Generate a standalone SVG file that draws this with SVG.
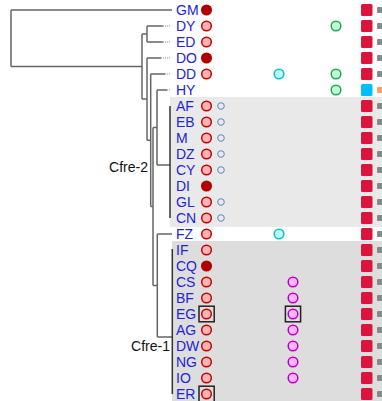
<svg xmlns="http://www.w3.org/2000/svg" width="382" height="401" viewBox="0 0 382 401">
<style>
.lbl{font-family:"Liberation Sans",Arial,sans-serif;font-size:14px;fill:#2323d8}
.clade{font-family:"Liberation Sans",Arial,sans-serif;font-size:14px;fill:#111}
.br{stroke:#666;stroke-width:1.5;fill:none}
.cl{stroke:#333;stroke-width:1.5;fill:none}
.dot{stroke:#b4b4b4;stroke-width:1.5;stroke-dasharray:1 1;fill:none}
.pk{fill:#ffb3b3;stroke:#c80000;stroke-width:1.5}
.dr{fill:#b00000;stroke:#b00000;stroke-width:1.5}
.bl{fill:none;stroke:#5a8ab8;stroke-width:1}
.cy{fill:#b4ffff;stroke:#14bcbc;stroke-width:1.5}
.gr{fill:#c8ffd8;stroke:#0cb050;stroke-width:1.5}
.mg{fill:#ffb4ff;stroke:#c000c8;stroke-width:1.5}
.rs{fill:#dc143c}
.bs{fill:#00bfff}
.gs{fill:#888}
.os{fill:#f4a460}
.box{fill:none;stroke:#222;stroke-width:1.5}
</style>
<rect x="170" y="97" width="212" height="130" fill="#e9e9e9"/>
<rect x="172" y="241" width="210" height="160" fill="#dddddd"/>
<g id="connectors">
<path class="br" d="M11,10V66.6M11,10H172M11,66.6H142M142,34V99.1M142,34H147M147,26V42M147,26H163M147,42H163M142,99.1H147M147,58V140.3M147,58H161M147,140.3H150.7M150.7,74V206.5M150.7,74H165M150.7,206.5H153M153,127.5V285.5M153,127.5H157M157,90V165M157,90H167M157,165H170M153,285.5H157.3M157.3,234V337M157.3,234H172M157.3,337H172"/>
<path class="dot" d="M163,26H171M163,42H171M161,58H171M165,74H171M167,90H171"/>
<path class="cl" d="M170,106V218M172.3,249V394"/>
</g>
<g id="clade-Cfre-2"><text class="clade" x="148" y="171.5" text-anchor="end">Cfre-2</text></g>
<g id="clade-Cfre-1"><text class="clade" x="170" y="351" text-anchor="end">Cfre-1</text></g>
<g id="leaf-GM"><text class="lbl" x="176" y="15">GM</text><circle class="dr" cx="206.5" cy="10" r="4.8"/><rect class="rs" x="361" y="4" width="11.5" height="12" rx="1.5"/><rect class="gs" x="377" y="7" width="6" height="6" rx="1"/></g>
<g id="leaf-DY"><text class="lbl" x="176" y="31">DY</text><circle class="pk" cx="206.5" cy="26" r="4.8"/><circle class="gr" cx="336" cy="26" r="4.8"/><rect class="rs" x="361" y="20" width="11.5" height="12" rx="1.5"/><rect class="gs" x="377" y="23" width="6" height="6" rx="1"/></g>
<g id="leaf-ED"><text class="lbl" x="176" y="47">ED</text><circle class="pk" cx="206.5" cy="42" r="4.8"/><rect class="rs" x="361" y="36" width="11.5" height="12" rx="1.5"/><rect class="gs" x="377" y="39" width="6" height="6" rx="1"/></g>
<g id="leaf-DO"><text class="lbl" x="176" y="63">DO</text><circle class="dr" cx="206.5" cy="58" r="4.8"/><rect class="rs" x="361" y="52" width="11.5" height="12" rx="1.5"/><rect class="gs" x="377" y="55" width="6" height="6" rx="1"/></g>
<g id="leaf-DD"><text class="lbl" x="176" y="79">DD</text><circle class="pk" cx="206.5" cy="74" r="4.8"/><circle class="cy" cx="279" cy="74" r="4.8"/><circle class="gr" cx="336" cy="74" r="4.8"/><rect class="rs" x="361" y="68" width="11.5" height="12" rx="1.5"/><rect class="gs" x="377" y="71" width="6" height="6" rx="1"/></g>
<g id="leaf-HY"><text class="lbl" x="176" y="95">HY</text><circle class="gr" cx="336" cy="90" r="4.8"/><rect class="bs" x="361" y="84" width="11.5" height="12" rx="1.5"/><rect class="os" x="377" y="87" width="6" height="6" rx="1"/></g>
<g id="leaf-AF"><text class="lbl" x="176" y="111">AF</text><circle class="pk" cx="206.5" cy="106" r="4.8"/><circle class="bl" cx="221" cy="106" r="3.3"/><rect class="rs" x="361" y="100" width="11.5" height="12" rx="1.5"/><rect class="gs" x="377" y="103" width="6" height="6" rx="1"/></g>
<g id="leaf-EB"><text class="lbl" x="176" y="127">EB</text><circle class="pk" cx="206.5" cy="122" r="4.8"/><circle class="bl" cx="221" cy="122" r="3.3"/><rect class="rs" x="361" y="116" width="11.5" height="12" rx="1.5"/><rect class="gs" x="377" y="119" width="6" height="6" rx="1"/></g>
<g id="leaf-M"><text class="lbl" x="176" y="143">M</text><circle class="pk" cx="206.5" cy="138" r="4.8"/><circle class="bl" cx="221" cy="138" r="3.3"/><rect class="rs" x="361" y="132" width="11.5" height="12" rx="1.5"/><rect class="gs" x="377" y="135" width="6" height="6" rx="1"/></g>
<g id="leaf-DZ"><text class="lbl" x="176" y="159">DZ</text><circle class="pk" cx="206.5" cy="154" r="4.8"/><circle class="bl" cx="221" cy="154" r="3.3"/><rect class="rs" x="361" y="148" width="11.5" height="12" rx="1.5"/><rect class="gs" x="377" y="151" width="6" height="6" rx="1"/></g>
<g id="leaf-CY"><text class="lbl" x="176" y="175">CY</text><circle class="pk" cx="206.5" cy="170" r="4.8"/><circle class="bl" cx="221" cy="170" r="3.3"/><rect class="rs" x="361" y="164" width="11.5" height="12" rx="1.5"/><rect class="gs" x="377" y="167" width="6" height="6" rx="1"/></g>
<g id="leaf-DI"><text class="lbl" x="176" y="191">DI</text><circle class="dr" cx="206.5" cy="186" r="4.8"/><rect class="rs" x="361" y="180" width="11.5" height="12" rx="1.5"/><rect class="gs" x="377" y="183" width="6" height="6" rx="1"/></g>
<g id="leaf-GL"><text class="lbl" x="176" y="207">GL</text><circle class="pk" cx="206.5" cy="202" r="4.8"/><circle class="bl" cx="221" cy="202" r="3.3"/><rect class="rs" x="361" y="196" width="11.5" height="12" rx="1.5"/><rect class="gs" x="377" y="199" width="6" height="6" rx="1"/></g>
<g id="leaf-CN"><text class="lbl" x="176" y="223">CN</text><circle class="pk" cx="206.5" cy="218" r="4.8"/><circle class="bl" cx="221" cy="218" r="3.3"/><rect class="rs" x="361" y="212" width="11.5" height="12" rx="1.5"/><rect class="gs" x="377" y="215" width="6" height="6" rx="1"/></g>
<g id="leaf-FZ"><text class="lbl" x="176" y="239">FZ</text><circle class="pk" cx="206.5" cy="234" r="4.8"/><circle class="cy" cx="279" cy="234" r="4.8"/><rect class="rs" x="361" y="228" width="11.5" height="12" rx="1.5"/><rect class="gs" x="377" y="231" width="6" height="6" rx="1"/></g>
<g id="leaf-IF"><text class="lbl" x="176" y="255">IF</text><circle class="pk" cx="206.5" cy="250" r="4.8"/><rect class="rs" x="361" y="244" width="11.5" height="12" rx="1.5"/><rect class="gs" x="377" y="247" width="6" height="6" rx="1"/></g>
<g id="leaf-CQ"><text class="lbl" x="176" y="271">CQ</text><circle class="dr" cx="206.5" cy="266" r="4.8"/><rect class="rs" x="361" y="260" width="11.5" height="12" rx="1.5"/><rect class="gs" x="377" y="263" width="6" height="6" rx="1"/></g>
<g id="leaf-CS"><text class="lbl" x="176" y="287">CS</text><circle class="pk" cx="206.5" cy="282" r="4.8"/><circle class="mg" cx="293" cy="282" r="4.8"/><rect class="rs" x="361" y="276" width="11.5" height="12" rx="1.5"/><rect class="gs" x="377" y="279" width="6" height="6" rx="1"/></g>
<g id="leaf-BF"><text class="lbl" x="176" y="303">BF</text><circle class="pk" cx="206.5" cy="298" r="4.8"/><circle class="mg" cx="293" cy="298" r="4.8"/><rect class="rs" x="361" y="292" width="11.5" height="12" rx="1.5"/><rect class="gs" x="377" y="295" width="6" height="6" rx="1"/></g>
<g id="leaf-EG"><text class="lbl" x="176" y="319">EG</text><circle class="pk" cx="206.5" cy="314" r="4.8"/><rect class="box" x="199" y="306.2" width="15.2" height="15.6"/><circle class="mg" cx="293" cy="314" r="4.8"/><rect class="box" x="285.4" y="306.2" width="15.2" height="15.6"/><rect class="rs" x="361" y="308" width="11.5" height="12" rx="1.5"/><rect class="gs" x="377" y="311" width="6" height="6" rx="1"/></g>
<g id="leaf-AG"><text class="lbl" x="176" y="335">AG</text><circle class="pk" cx="206.5" cy="330" r="4.8"/><circle class="mg" cx="293" cy="330" r="4.8"/><rect class="rs" x="361" y="324" width="11.5" height="12" rx="1.5"/><rect class="gs" x="377" y="327" width="6" height="6" rx="1"/></g>
<g id="leaf-DW"><text class="lbl" x="176" y="351">DW</text><circle class="pk" cx="206.5" cy="346" r="4.8"/><circle class="mg" cx="293" cy="346" r="4.8"/><rect class="rs" x="361" y="340" width="11.5" height="12" rx="1.5"/><rect class="gs" x="377" y="343" width="6" height="6" rx="1"/></g>
<g id="leaf-NG"><text class="lbl" x="176" y="367">NG</text><circle class="pk" cx="206.5" cy="362" r="4.8"/><circle class="mg" cx="293" cy="362" r="4.8"/><rect class="rs" x="361" y="356" width="11.5" height="12" rx="1.5"/><rect class="gs" x="377" y="359" width="6" height="6" rx="1"/></g>
<g id="leaf-IO"><text class="lbl" x="176" y="383">IO</text><circle class="pk" cx="206.5" cy="378" r="4.8"/><circle class="mg" cx="293" cy="378" r="4.8"/><rect class="rs" x="361" y="372" width="11.5" height="12" rx="1.5"/><rect class="gs" x="377" y="375" width="6" height="6" rx="1"/></g>
<g id="leaf-ER"><text class="lbl" x="176" y="399">ER</text><circle class="pk" cx="206.5" cy="394" r="4.8"/><rect class="box" x="199" y="386.2" width="15.2" height="15.6"/><rect class="rs" x="361" y="388" width="11.5" height="12" rx="1.5"/><rect class="gs" x="377" y="391" width="6" height="6" rx="1"/></g>
</svg>
